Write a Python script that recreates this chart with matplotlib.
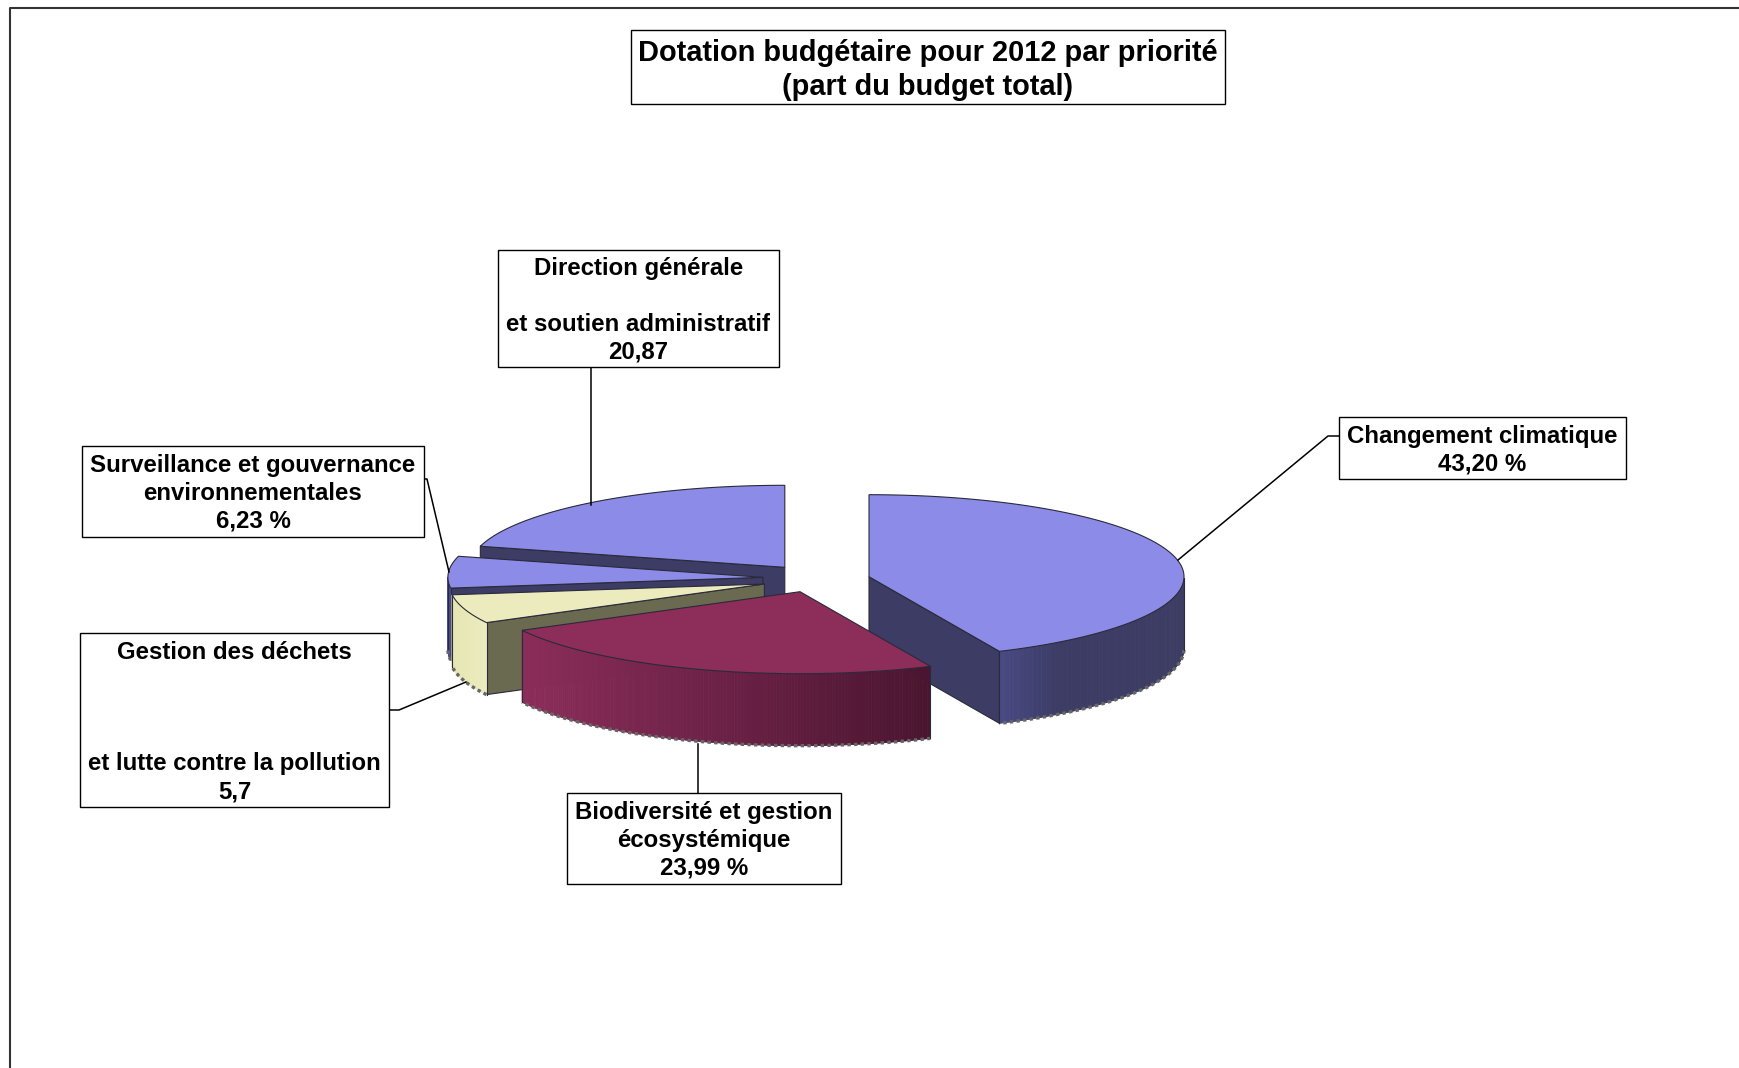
import numpy as np
import matplotlib
matplotlib.use("Agg")
import matplotlib.pyplot as plt
from matplotlib.patches import Polygon, Rectangle

plt.rcParams['font.family'] = ['Liberation Sans', 'DejaVu Sans']

# parts du budget, dans le sens horaire depuis midi
shares = [43.20, 23.99, 5.7, 6.23, 20.87]

title = "Dotation budgétaire pour 2012 par priorité\n(part du budget total)"
labels = ["Changement climatique\n43,20 %",
          "Biodiversité et gestion\nécosystémique\n23,99 %",
          "Gestion des déchets\n\n\n\net lutte contre la pollution\n5,7",
          "Surveillance et gouvernance\nenvironnementales\n6,23 %",
          "Direction générale\n\net soutien administratif\n20,87"]

W, H = 1739, 1068
A, B, DEPTH = 315, 82, 72

# centres des parts (pixels de l'image)
centers = [(869, 576.7), (800, 591.7), (764.4, 584), (762.9, 577.3), (784.8, 567.3)]
tops = ['#8c8ce8', '#8c2d5a', '#ebebbe', '#8c8ce8', '#8c8ce8']
faces = ['#3c3c64', '#8c2d5a', '#6a6a50', '#3c3c64', '#3c3c64']
wall_from = ['#4a4a86', '#8c2d5a', '#e6e6b2', '#4a4a96', '#4a4a96']
wall_to = ['#3c3c64', '#4a1530', '#ecebc0', '#4a4a96', '#4a4a96']
cut_side = [-1, None, 0, 0, 0]
draw_order = [4, 3, 2, 0, 1]

boxes = [(1339, 417, 1626, 479), (567, 793, 841, 884), (80, 633, 389, 807),
         (82, 446, 424, 537), (498, 250, 779, 367)]
leaders = [[(1339, 436), (1328, 436), (1178, 560)],
           [(698, 793), (698, 744)],
           [(389, 710), (399, 710), (466, 682)],
           [(424, 479), (427, 479), (449, 572)],
           [(591, 367), (591, 505)]]

fig = plt.figure(figsize=(W / 100, H / 100), dpi=100)
ax = fig.add_axes([0, 0, 1, 1])
ax.set_xlim(0, W)
ax.set_ylim(H, 0)
ax.axis('off')


def rim(cx, cy, a0, a1, n=160):
    t = np.radians(np.linspace(a0, a1, n))
    return t, np.column_stack([cx + A * np.sin(t), cy - B * np.cos(t)])


def mix(c1, c2, f):
    c1 = np.array(matplotlib.colors.to_rgb(c1))
    c2 = np.array(matplotlib.colors.to_rgb(c2))
    return tuple(c1 + (c2 - c1) * f)


ends = np.cumsum([0] + shares) / sum(shares) * 360
EDGE = '#2a2a3a'

for i in draw_order:
    cx, cy = centers[i]
    t, arc = rim(cx, cy, ends[i], ends[i + 1])
    down = np.array([0, DEPTH])
    apex = np.array([cx, cy])

    # face coupee
    if cut_side[i] is not None:
        p = arc[cut_side[i]]
        ax.add_patch(Polygon([apex, p, p + down, apex + down], closed=True,
                             fc=faces[i], ec=EDGE, lw=0.8, zorder=1))

    # paroi exterieure, seulement la moitie avant
    vis = np.where(np.cos(t) < 0)[0]
    if len(vis) > 1:
        xmin, xmax = arc[vis, 0].min(), arc[vis, 0].max()
        for k in vis[:-1]:
            q = [arc[k], arc[k + 1], arc[k + 1] + down, arc[k] + down]
            f = (arc[k, 0] - xmin) / max(xmax - xmin, 1)
            if i == 0:
                f = min(f * 3, 1)
            col = mix(wall_from[i], wall_to[i], f)
            ax.add_patch(Polygon(q, closed=True, fc=col, ec=col, lw=0.6, zorder=1))
        low = arc[vis] + down
        ax.plot(low[:, 0], low[:, 1], color='#666666', lw=2.4, ls=(0, (1.0, 1.0)), zorder=1)
        for k in (vis[0], vis[-1]):
            ax.plot([arc[k, 0], arc[k, 0]], [arc[k, 1], arc[k, 1] + DEPTH], color=EDGE, lw=0.8, zorder=1)

    # dessus
    ax.add_patch(Polygon(np.vstack([apex, arc]), closed=True, fc=tops[i], ec=EDGE, lw=0.8, zorder=1))

# cadre
ax.plot([10, 10, W], [H, 8, 8], color='#333333', lw=1.5, clip_on=False)

# traits de rappel
for pts in leaders:
    xs, ys = zip(*pts)
    ax.plot(xs, ys, color='black', lw=1.1, zorder=2)

# etiquettes
for txt, (x0, y0, x1, y1) in zip(labels, boxes):
    ax.add_patch(Rectangle((x0, y0), x1 - x0, y1 - y0, fc='white', ec='black', lw=1.0, zorder=3))
    ax.text((x0 + x1) / 2, (y0 + y1) / 2 + 2, txt, ha='center', va='center', ma='center',
            fontsize=17.3, fontweight='bold', linespacing=1.27, zorder=4)

ax.add_patch(Rectangle((631, 30), 594, 74, fc='white', ec='black', lw=1.0, zorder=3))
ax.text(928, 70, title, ha='center', va='center', ma='center',
        fontsize=20.85, fontweight='bold', linespacing=1.26, zorder=4)

fig.savefig("out.png", dpi=100)
